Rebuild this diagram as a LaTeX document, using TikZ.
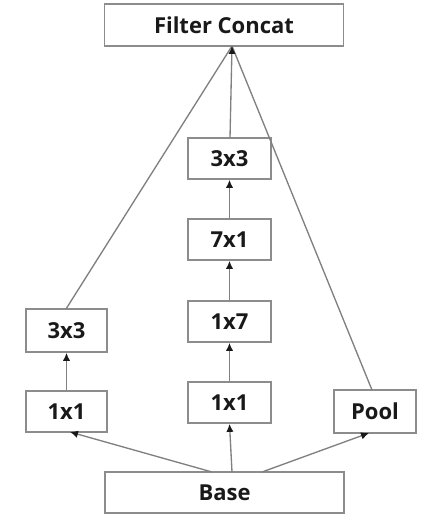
\documentclass[tikz,border=0pt]{standalone}
\usepackage{fontspec}
\setmainfont{Open Sans}
\usetikzlibrary{arrows.meta}
\begin{document}
\begin{tikzpicture}[x=0.75pt,y=-0.75pt,
  box/.style={draw=black!45,line width=1.3pt,fill=white,inner sep=0pt,font=\bfseries\fontsize{16.5}{18}\selectfont,text=black!90},
  conn/.style={draw=black!50,line width=1pt},
  arr/.style={conn,-{Latex[length=6pt,width=5.5pt,color=black!90]}}]
\useasboundingbox (0,0) rectangle (442,524);
\fill[white] (0,0) rectangle (442,524);
\node[box,minimum width=239*0.75pt,minimum height=42*0.75pt] (fc) at (224,25) {Filter Concat};
\node[box,minimum width=239*0.75pt,minimum height=41*0.75pt] (base) at (224.5,492.5) {Base};
\node[box,minimum width=81*0.75pt,minimum height=43*0.75pt] (l3) at (66.5,330.5) {3x3};
\node[box,minimum width=81*0.75pt,minimum height=41*0.75pt] (l1) at (66.5,411.5) {1x1};
\node[box,minimum width=83*0.75pt,minimum height=41*0.75pt] (c3) at (229.5,158.5) {3x3};
\node[box,minimum width=83*0.75pt,minimum height=41*0.75pt] (c71) at (229.5,239.5) {7x1};
\node[box,minimum width=83*0.75pt,minimum height=41*0.75pt] (c17) at (229.5,321.5) {1x7};
\node[box,minimum width=83*0.75pt,minimum height=41*0.75pt] (c1) at (229.5,402.5) {1x1};
\node[box,minimum width=82*0.75pt,minimum height=43*0.75pt] (pool) at (375,411.5) {Pool};
\coordinate (top) at (232,46);
\coordinate (bl) at (212,472);
\coordinate (bc) at (232,472);
\coordinate (br) at (262,472);
\draw[arr] (bl) -- (70,432);
\draw[arr] (bc) -- (c1.south);
\draw[arr] (br) -- (369,433);
\draw[arr] (l1.north) -- (l3.south);
\draw[arr] (c1.north) -- (c17.south);
\draw[arr] (c17.north) -- (c71.south);
\draw[arr] (c71.north) -- (c3.south);
\draw[conn] (66,309) -- (top);
\draw[conn] (230,138) -- (top);
\draw[conn] (372,390) -- (top);
\draw[arr] (232,54) -- (top);
\end{tikzpicture}
\end{document}
